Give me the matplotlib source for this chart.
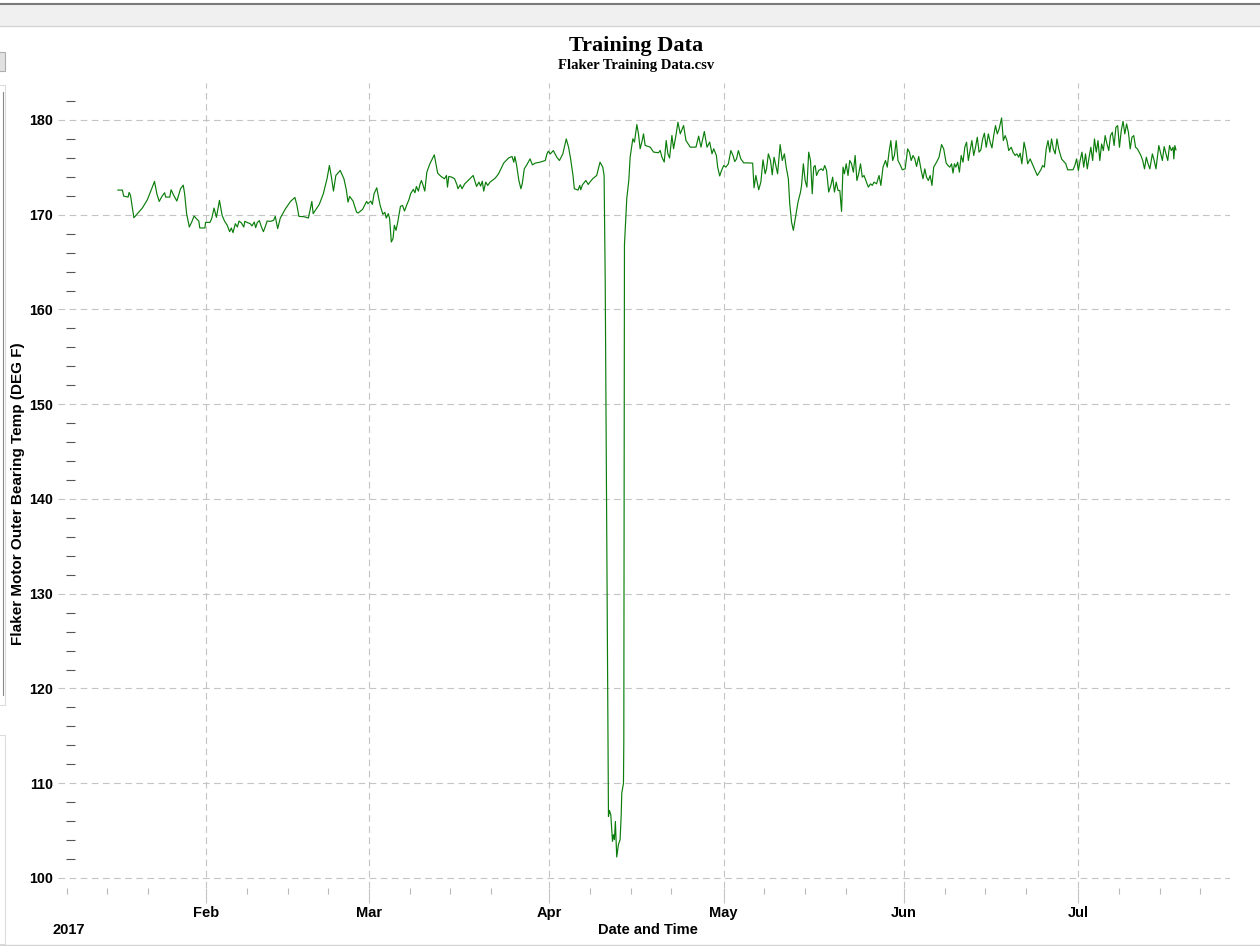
import matplotlib
matplotlib.use("Agg")
import matplotlib.pyplot as plt
import matplotlib.dates as mdates
import matplotlib.ticker as mtick
from matplotlib.patches import Rectangle
from matplotlib.lines import Line2D
import pandas as pd

# days after 2017-01-01 (0 = Jan 1) and bearing temperature
day_offset = [
    15.81, 16.57, 16.80, 17.56, 17.73, 17.97, 18.55, 20.00, 20.87, 22.10,
    22.50, 22.91, 23.38, 23.84, 24.02, 24.72, 24.95, 25.41, 25.94, 26.58,
    27.04, 27.28, 27.62, 28.09, 28.50, 28.91, 29.37, 29.72, 29.89, 30.77,
    30.88, 31.64, 31.93, 32.34, 32.75, 33.27, 33.73, 34.14, 34.61, 35.02,
    35.31, 35.60, 36.00, 36.35, 36.64, 37.05, 37.46, 37.63, 38.10, 38.56,
    38.86, 39.26, 39.50, 39.79, 40.14, 40.49, 40.83, 41.13, 41.47, 42.06,
    42.58, 42.87, 43.28, 43.74, 44.62, 45.49, 46.25, 46.60, 46.94, 47.82,
    48.57, 49.16, 49.39, 50.44, 51.13, 51.77, 52.18, 52.53, 52.88, 53.29,
    54.04, 54.68, 55.09, 55.38, 55.67, 56.25, 56.84, 57.13, 57.88, 58.58,
    58.82, 59.28, 59.57, 59.86, 60.33, 60.62, 60.91, 61.38, 61.72, 61.96,
    62.31, 62.54, 62.83, 63.12, 63.35, 63.64, 63.94, 64.40, 64.75, 65.10,
    65.45, 65.86, 66.15, 66.61, 66.90, 67.14, 67.49, 67.78, 68.01, 68.30,
    68.59, 68.94, 69.46, 70.22, 70.80, 71.38, 71.97, 72.31, 72.49, 72.72,
    73.25, 73.71, 74.12, 74.29, 74.70, 74.99, 75.46, 76.04, 76.91, 77.20,
    77.49, 77.90, 78.19, 78.48, 78.72, 79.07, 79.41, 79.82, 80.70, 81.28,
    82.15, 83.02, 83.60, 83.90, 84.07, 84.36, 84.77, 85.12, 85.35, 85.70,
    86.17, 86.69, 87.10, 87.56, 88.38, 89.31, 89.60, 89.83, 90.18, 90.70,
    91.29, 91.75, 92.33, 92.92, 93.32, 93.67, 94.08, 94.31, 94.95, 95.24,
    95.42, 95.71, 96.29, 96.70, 96.99, 97.46, 98.15, 98.73, 99.20, 99.43,
    99.62, 99.85, 100.18, 100.35, 100.58, 100.87, 101.03, 101.20, 101.37, 101.60,
    101.89, 102.18, 102.36, 102.47, 102.76, 102.82, 102.93, 103.33, 103.68, 103.91,
    104.37, 104.65, 105.06, 105.34, 105.63, 105.92, 106.21, 106.49, 107.36, 107.93,
    108.79, 109.08, 109.37, 109.77, 110.11, 110.40, 110.69, 111.09, 111.38, 111.78,
    112.13, 112.53, 113.10, 113.51, 114.25, 115.23, 115.69, 116.09, 116.67, 117.13,
    117.59, 117.99, 118.28, 118.74, 118.96, 119.31, 119.63, 120.00, 120.37, 120.80,
    121.23, 121.60, 121.90, 122.21, 122.52, 122.95, 123.44, 124.18, 124.98, 125.22,
    125.53, 126.02, 126.39, 126.76, 127.13, 127.37, 127.68, 128.05, 128.35, 128.66,
    128.97, 129.27, 129.71, 130.07, 130.44, 130.75, 131.12, 131.36, 131.67, 131.98,
    132.35, 132.78, 133.21, 133.39, 133.70, 134.01, 134.31, 134.62, 134.93, 135.23,
    135.48, 135.73, 135.97, 136.34, 136.77, 137.08, 137.38, 137.69, 138.06, 138.43,
    138.74, 139.05, 139.35, 139.66, 139.97, 140.27, 140.52, 140.76, 141.07, 141.38,
    141.68, 141.99, 142.30, 142.61, 142.91, 143.22, 143.53, 143.84, 144.14, 144.45,
    144.88, 145.25, 145.55, 145.86, 146.29, 146.72, 147.03, 147.40, 147.83, 148.13,
    148.44, 148.75, 149.06, 149.36, 149.67, 149.98, 150.41, 150.72, 151.21, 151.64,
    151.95, 152.25, 152.56, 152.87, 153.17, 153.54, 153.97, 154.28, 154.59, 154.89,
    155.20, 155.51, 155.82, 156.12, 156.61, 157.04, 157.47, 157.84, 158.27, 158.58,
    158.89, 159.19, 159.44, 159.69, 159.93, 160.24, 160.54, 160.85, 161.16, 161.47,
    161.77, 162.08, 162.39, 162.69, 163.00, 163.31, 163.62, 163.92, 164.23, 164.54,
    164.84, 165.15, 165.52, 165.83, 166.14, 166.44, 166.75, 167.06, 167.37, 167.80,
    168.10, 168.41, 168.72, 169.02, 169.45, 169.76, 170.13, 170.43, 170.74, 170.99,
    171.29, 171.66, 171.97, 172.28, 172.71, 173.32, 173.94, 174.55, 174.86, 175.16,
    175.47, 175.78, 176.09, 176.39, 176.70, 177.01, 177.32, 177.62, 178.11, 178.85,
    179.16, 180.08, 180.39, 180.70, 181.00, 181.31, 181.62, 181.92, 182.23, 182.54,
    182.85, 183.15, 183.46, 183.77, 184.08, 184.38, 184.69, 185.00, 185.30, 185.61,
    185.92, 186.23, 186.53, 186.84, 187.15, 187.46, 187.76, 188.07, 188.38, 188.69,
    188.99, 189.30, 189.61, 189.92, 190.22, 190.53, 190.84, 191.15, 191.76, 192.07,
    192.38, 192.69, 192.99, 193.30, 193.73, 194.04, 194.35, 194.84, 195.15, 195.45,
    195.76, 196.07, 196.38, 196.68, 196.99, 197.30, 197.42, 197.60, 197.79,
]

temp = [
    172.60, 172.60, 171.96, 171.86, 172.35, 172.04, 169.68, 170.70, 171.58, 173.51,
    172.21, 171.40, 171.93, 172.32, 171.86, 171.86, 172.63, 172.04, 171.44, 172.74,
    173.12, 172.21, 170.11, 168.70, 169.23, 169.86, 169.54, 169.33, 168.60, 168.60,
    169.19, 169.19, 169.58, 170.70, 169.72, 171.51, 169.93, 169.33, 168.88, 168.21,
    168.60, 168.11, 169.05, 168.70, 169.33, 169.12, 168.70, 169.30, 169.16, 169.05,
    168.81, 169.23, 168.63, 169.19, 169.37, 168.70, 168.21, 168.70, 169.33, 169.30,
    169.40, 169.82, 168.53, 169.65, 170.63, 171.40, 171.82, 170.98, 169.82, 169.79,
    169.65, 171.40, 170.11, 171.09, 172.21, 173.79, 175.19, 173.96, 172.49, 174.14,
    174.67, 173.79, 172.63, 171.33, 171.93, 171.44, 170.28, 170.18, 170.56, 171.40,
    171.16, 171.44, 171.09, 172.21, 172.84, 171.86, 170.98, 170.04, 170.25, 169.65,
    170.11, 169.58, 167.12, 167.47, 168.88, 168.35, 169.23, 170.88, 170.98, 170.39,
    170.98, 171.58, 172.21, 172.67, 172.32, 172.98, 172.49, 173.26, 173.61, 173.09,
    172.49, 174.49, 175.37, 176.32, 174.39, 174.04, 173.79, 174.14, 172.91, 174.04,
    173.96, 173.79, 173.16, 172.74, 173.16, 172.74, 173.26, 173.61, 174.14, 173.54,
    172.98, 173.44, 173.02, 173.54, 172.49, 173.44, 173.09, 173.44, 173.86, 174.32,
    175.44, 176.00, 176.14, 175.54, 176.14, 175.30, 173.61, 172.74, 173.26, 174.84,
    175.30, 175.89, 175.26, 175.44, 175.54, 175.72, 176.42, 176.70, 176.42, 176.77,
    176.07, 175.72, 176.42, 178.00, 177.12, 175.89, 174.14, 172.74, 172.60, 173.09,
    172.63, 173.16, 173.61, 173.19, 173.44, 173.79, 174.14, 175.54, 175.02, 174.14,
    163.00, 140.00, 106.49, 107.12, 106.67, 103.86, 104.56, 104.04, 105.96, 102.21,
    103.51, 104.04, 106.49, 108.95, 110.00, 114.50, 166.82, 171.71, 173.64, 176.08,
    178.01, 177.66, 179.51, 178.53, 176.96, 177.66, 178.53, 177.31, 177.13, 176.61,
    176.54, 176.78, 176.08, 175.56, 177.83, 176.43, 175.98, 178.36, 176.96, 178.36,
    179.76, 178.53, 179.41, 177.83, 177.13, 177.13, 178.29, 177.13, 178.78, 177.13,
    177.66, 176.43, 176.96, 176.26, 175.03, 174.09, 174.67, 175.19, 175.02, 175.37,
    176.77, 176.25, 175.61, 175.89, 176.77, 175.89, 175.47, 175.47, 175.44, 172.84,
    174.14, 172.63, 173.44, 175.79, 174.32, 174.84, 176.42, 175.72, 174.21, 176.07,
    175.19, 174.32, 177.40, 175.72, 176.42, 175.02, 173.79, 171.16, 169.23, 168.35,
    169.75, 171.33, 172.39, 173.09, 175.37, 173.61, 172.91, 176.60, 175.72, 172.21,
    175.02, 175.19, 174.14, 174.67, 174.84, 174.67, 175.19, 174.67, 172.39, 173.09,
    173.96, 172.39, 173.44, 172.56, 172.56, 170.35, 175.02, 174.32, 175.37, 174.14,
    175.72, 175.37, 174.49, 176.25, 173.61, 174.32, 175.37, 173.96, 174.14, 173.61,
    172.91, 173.26, 173.09, 173.44, 173.26, 174.14, 173.09, 175.02, 175.72, 175.02,
    176.60, 177.82, 175.72, 176.25, 177.82, 175.72, 175.19, 174.74, 174.84, 176.95,
    176.60, 175.72, 176.25, 175.89, 175.09, 176.14, 174.67, 173.79, 174.84, 173.96,
    173.61, 174.14, 173.09, 175.02, 175.54, 176.07, 177.40, 176.95, 175.44, 175.19,
    175.02, 175.37, 174.39, 175.37, 175.02, 175.54, 174.49, 176.25, 175.54, 177.12,
    177.65, 175.72, 176.84, 177.82, 176.25, 177.12, 178.18, 176.60, 176.84, 178.00,
    178.60, 177.12, 178.53, 177.65, 177.05, 178.35, 179.40, 178.53, 179.05, 180.21,
    177.82, 178.35, 177.82, 176.77, 177.12, 176.60, 176.25, 176.42, 176.07, 176.49,
    175.37, 177.65, 176.77, 175.37, 175.89, 175.02, 174.14, 174.74, 175.19, 175.02,
    176.95, 177.82, 176.60, 178.00, 176.95, 176.42, 178.00, 176.95, 175.89, 175.37,
    174.74, 174.74, 175.19, 175.89, 174.67, 175.72, 176.60, 175.02, 176.42, 174.84,
    176.07, 177.12, 175.72, 178.00, 176.60, 177.82, 175.72, 177.47, 176.77, 178.35,
    177.47, 176.77, 178.35, 178.70, 177.30, 179.23, 179.40, 177.12, 178.88, 179.86,
    178.53, 179.58, 178.70, 176.95, 178.18, 178.35, 177.12, 176.95, 176.25, 175.72,
    174.84, 176.07, 175.37, 174.84, 176.42, 175.72, 174.84, 177.30, 176.49, 175.72,
    177.19, 176.42, 175.72, 177.30, 176.77, 177.12, 175.89, 177.30, 176.84,
]

title = "Training Data"
subtitle = "Flaker Training Data.csv"
y_label = "Flaker Motor Outer Bearing Temp (DEG F)"
x_label = "Date and Time"
year_label = "2017"

W, H = 1260, 946
dates = pd.Timestamp("2017-01-01") + pd.to_timedelta(day_offset, unit="D")

plt.rcParams['font.family'] = ['Liberation Sans', 'DejaVu Sans']

fig = plt.figure(figsize=(W / 100, H / 100), dpi=100)
fig.patch.set_facecolor('white')


def fx(x):
    return x / W


def fy(y):
    return 1 - y / H


# window chrome around the chart (screenshot look)
fig.add_artist(Rectangle((0, fy(27)), 1, fy(4) - fy(27), transform=fig.transFigure,
                         facecolor='#f0f0f0', edgecolor='none'))
fig.add_artist(Line2D([0, 1], [fy(4), fy(4)], transform=fig.transFigure, color='#7a7a7a', lw=1.5))
fig.add_artist(Line2D([0, 1], [fy(26.5), fy(26.5)], transform=fig.transFigure, color='#d4d4d4', lw=1))
fig.add_artist(Line2D([0, 1], [fy(944.5), fy(944.5)], transform=fig.transFigure, color='#d4d4d4', lw=1))
fig.add_artist(Rectangle((fx(-2), fy(71)), fx(7), fy(52) - fy(71), transform=fig.transFigure,
                         facecolor='#e1e1e1', edgecolor='#adadad', lw=0.8))
fig.add_artist(Rectangle((fx(-2), fy(705)), fx(7), fy(85) - fy(705), transform=fig.transFigure,
                         facecolor='white', edgecolor='#dcdcdc', lw=0.8))
fig.add_artist(Line2D([fx(2.5), fx(2.5)], [fy(92), fy(695)], transform=fig.transFigure, color='#8a8a8a', lw=0.8))
fig.add_artist(Rectangle((fx(-2), fy(944)), fx(7), fy(735) - fy(944), transform=fig.transFigure,
                         facecolor='white', edgecolor='#dcdcdc', lw=0.8))

# plot area
left, right, top, bottom = 58, 1230, 83, 888
ax = fig.add_axes([fx(left), fy(bottom), fx(right - left), fy(top) - fy(bottom)])
ax.plot(dates, temp, color='#0b7d0b', linewidth=0.85, zorder=3)

ax.set_xlim(pd.Timestamp("2017-01-06 12:00"), pd.Timestamp("2017-07-27 02:00"))
ax.set_ylim(98.94, 183.9)

for s in ax.spines.values():
    s.set_visible(False)
ax.spines['left'].set_position(('outward', -5.8))

ax.xaxis.set_major_locator(mdates.MonthLocator())
ax.xaxis.set_major_formatter(mdates.DateFormatter('%b'))
ax.xaxis.set_minor_locator(mdates.DayLocator(bymonthday=[8, 15, 22]))
ax.yaxis.set_major_locator(mtick.MultipleLocator(10))
ax.yaxis.set_minor_locator(mtick.MultipleLocator(2))

ax.grid(True, which='major', color='#c4c4c4', linestyle=(0, (6, 4)), linewidth=0.8)
ax.tick_params(axis='x', which='major', direction='out', length=10.8, width=0.8,
               color='#c4c4c4', pad=2.5, labelsize=10.5)
ax.tick_params(axis='x', which='minor', direction='out', length=4.2, width=0.8, color='#b8b8b8')
ax.tick_params(axis='y', which='major', length=0, pad=9.4, labelsize=10.3)
ax.tick_params(axis='y', which='minor', direction='in', length=6.4, width=0.8, color='#555555')
for lbl in ax.get_xticklabels() + ax.get_yticklabels():
    lbl.set_fontweight('bold')

# titles and labels
fig.text(fx(636), fy(45.5), title, ha='center', va='center', fontsize=16, fontweight='bold',
         family=['Liberation Serif', 'DejaVu Serif'])
fig.text(fx(636), fy(65), subtitle, ha='center', va='center', fontsize=10.5, fontweight='bold',
         family=['Liberation Serif', 'DejaVu Serif'])
fig.text(fx(648), fy(930), x_label, ha='center', va='center', fontsize=10.5, fontweight='bold')
fig.text(fx(68.5), fy(930), year_label, ha='center', va='center', fontsize=10.5, fontweight='bold')
fig.text(fx(18), fy(494), y_label, ha='center', va='center', rotation=90, fontsize=11, fontweight='bold')

fig.savefig("out.png", dpi=100)
